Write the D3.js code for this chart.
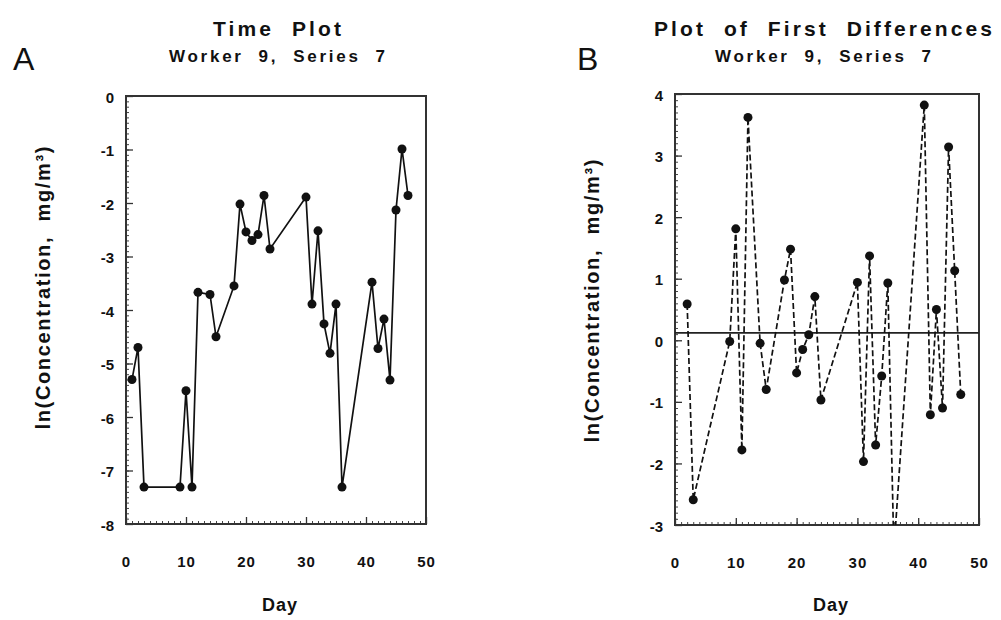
<!DOCTYPE html>
<html>
<head>
<meta charset="utf-8">
<script src="https://cdn.jsdelivr.net/npm/d3@7"></script>
<style>
  body { margin: 0; background: #fff; }
  text { font-family: "Liberation Sans", Arial, sans-serif; fill: #111; }
</style>
</head>
<body>
<div id="chart"></div>
<script>
// two panels: time plot (A) and first differences (B), worker 9 series 7

// data
var days = [1, 2, 3, 9, 10, 11, 12, 14, 15, 18, 19, 20, 21, 22, 23, 24, 30, 31, 32, 33, 34, 35, 36, 41, 42, 43, 44, 45, 46, 47];
var lnConc = [-5.30, -4.70, -7.31, -7.31, -5.51, -7.31, -3.67, -3.71, -4.50, -3.55, -2.02, -2.54, -2.70, -2.59, -1.86, -2.86,
  -1.89, -3.89, -2.52, -4.26, -4.81, -3.89, -7.31, -3.48, -4.72, -4.17, -5.31, -2.13, -0.99, -1.86];

var diffDays = [2, 3, 9, 10, 11, 12, 14, 15, 18, 19, 20, 21, 22, 23, 24, 30, 31, 32, 33, 34, 35, 36, 41, 42, 43, 44, 45, 46, 47];
var diffs = [0.59, -2.59, -0.02, 1.81, -1.78, 3.62, -0.05, -0.80, 0.98, 1.48, -0.53, -0.15, 0.09, 0.71, -0.97,
  0.94, -1.97, 1.37, -1.70, -0.58, 0.93, -3.42, 3.82, -1.21, 0.50, -1.10, 3.14, 1.13, -0.88];
var meanDiff = 0.12;

var xTicks = [0, 10, 20, 30, 40, 50];
var yTicksA = [0, -1, -2, -3, -4, -5, -6, -7, -8];
var yTicksB = [4, 3, 2, 1, 0, -1, -2, -3];

var svg = d3.select("#chart")
  .append("svg")
  .attr("width", 1001)
  .attr("height", 620);

function drawPanel(opt) {
  var g = svg.append("g");
  var x = d3.scaleLinear().domain([0, 50]).range([opt.left, opt.right]);
  var y = d3.scaleLinear().domain(opt.yDomain).range([opt.bottom, opt.top]);

  // clip to plot box
  g.append("clipPath").attr("id", "clip" + opt.key)
    .append("rect")
    .attr("x", opt.left).attr("y", opt.top)
    .attr("width", opt.right - opt.left).attr("height", opt.bottom - opt.top);

  // minor ticks, inside the box
  var yMinor = d3.range(opt.yDomain[0], opt.yDomain[1] + 0.001, 0.1);
  g.append("g")
    .attr("transform", `translate(${opt.left},0)`)
    .call(d3.axisRight(y).tickValues(yMinor).tickSize(3).tickFormat(""))
    .call(a => a.select(".domain").remove())
    .selectAll("line").attr("stroke", "#444").attr("stroke-width", 1);
  g.append("g")
    .attr("transform", `translate(0,${opt.bottom})`)
    .call(d3.axisTop(x).tickValues(d3.range(0, 51, 1)).tickSize(3).tickFormat(""))
    .call(a => a.select(".domain").remove())
    .selectAll("line").attr("stroke", "#444").attr("stroke-width", 1);

  // major ticks
  g.append("g")
    .attr("transform", `translate(${opt.left},0)`)
    .call(d3.axisRight(y).tickValues(opt.yTicks).tickSize(7).tickFormat(""))
    .call(a => a.select(".domain").remove())
    .selectAll("line").attr("stroke", "#333").attr("stroke-width", 1.3);
  g.append("g")
    .attr("transform", `translate(0,${opt.bottom})`)
    .call(d3.axisTop(x).tickValues(xTicks).tickSize(7).tickFormat(""))
    .call(a => a.select(".domain").remove())
    .selectAll("line").attr("stroke", "#333").attr("stroke-width", 1.3);

  // tick labels
  var yLab = g.append("g")
    .attr("transform", `translate(${opt.left},0)`)
    .call(d3.axisLeft(y).tickValues(opt.yTicks).tickSize(0).tickPadding(12).tickFormat(d => String(d)));
  yLab.select(".domain").remove();
  yLab.selectAll("text")
    .style("font-size", "15px").style("font-weight", "bold")
    .attr("dy", "0.4em");

  var xLab = g.append("g")
    .attr("transform", `translate(0,${opt.bottom})`)
    .call(d3.axisBottom(x).tickValues(xTicks).tickSize(0).tickPadding(32).tickFormat(d => String(d)));
  xLab.select(".domain").remove();
  xLab.selectAll("text")
    .style("font-size", "15px").style("font-weight", "bold")
    .attr("letter-spacing", "1px");

  // plot box
  g.append("rect")
    .attr("x", opt.left).attr("y", opt.top)
    .attr("width", opt.right - opt.left).attr("height", opt.bottom - opt.top)
    .attr("fill", "none").attr("stroke", "#333").attr("stroke-width", 2);

  var plot = g.append("g").attr("clip-path", `url(#clip${opt.key})`);

  if (opt.refLine !== undefined) {
    plot.append("line")
      .attr("x1", opt.left).attr("x2", opt.right)
      .attr("y1", y(opt.refLine)).attr("y2", y(opt.refLine))
      .attr("stroke", "#222").attr("stroke-width", 1.6);
  }

  var pts = opt.xs.map((d, i) => [d, opt.ys[i]]);
  var line = d3.line().x(d => x(d[0])).y(d => y(d[1]));

  plot.append("path")
    .datum(pts)
    .attr("d", line)
    .attr("fill", "none")
    .attr("stroke", "#111")
    .attr("stroke-width", 1.7)
    .attr("stroke-dasharray", opt.dashed ? "6,3" : null);

  plot.selectAll("circle")
    .data(pts)
    .enter()
    .append("circle")
    .attr("cx", d => x(d[0]))
    .attr("cy", d => y(d[1]))
    .attr("r", 4.5)
    .attr("fill", "#111");

  // titles (double spaces between words, as in the original)
  svg.append("text")
    .attr("x", opt.titleX).attr("y", 36)
    .attr("text-anchor", "middle")
    .attr("xml:space", "preserve")
    .style("white-space", "pre")
    .attr("textLength", opt.titleLen).attr("lengthAdjust", "spacing")
    .style("font-size", "21px").style("font-weight", "bold")
    .text(opt.title);
  svg.append("text")
    .attr("x", opt.titleX).attr("y", 62)
    .attr("text-anchor", "middle")
    .attr("xml:space", "preserve")
    .style("white-space", "pre")
    .attr("textLength", 216).attr("lengthAdjust", "spacing")
    .style("font-size", "17px").style("font-weight", "bold")
    .text("Worker  9,  Series  7");
  svg.append("text")
    .attr("x", opt.letterX).attr("y", 70)
    .style("font-size", "32px")
    .text(opt.key);

  // axis titles
  svg.append("text")
    .attr("transform", `translate(${opt.yLabelX},${opt.yLabelY}) rotate(-90)`)
    .attr("text-anchor", "middle")
    .attr("xml:space", "preserve")
    .style("white-space", "pre")
    .attr("textLength", 283).attr("lengthAdjust", "spacing")
    .style("font-size", "20px").style("font-weight", "bold")
    .text("ln(Concentration,  mg/m³)");
  svg.append("text")
    .attr("x", (opt.left + opt.right) / 2 + 4).attr("y", 611)
    .attr("text-anchor", "middle")
    .style("font-size", "18px").style("font-weight", "bold")
    .attr("letter-spacing", "1px")
    .text("Day");
}

drawPanel({
  key: "A", left: 126, right: 426, top: 96, bottom: 524,
  yDomain: [-8, 0], yTicks: yTicksA,
  xs: days, ys: lnConc, dashed: false,
  title: "Time  Plot", titleLen: 128, titleX: 277, letterX: 13,
  yLabelX: 50, yLabelY: 288
});

drawPanel({
  key: "B", left: 675, right: 979, top: 94, bottom: 525,
  yDomain: [-3, 4], yTicks: yTicksB,
  xs: diffDays, ys: diffs, dashed: true, refLine: meanDiff,
  title: "Plot  of  First  Differences", titleLen: 338, titleX: 823, letterX: 577,
  yLabelX: 599, yLabelY: 301
});
</script>
</body>
</html>
